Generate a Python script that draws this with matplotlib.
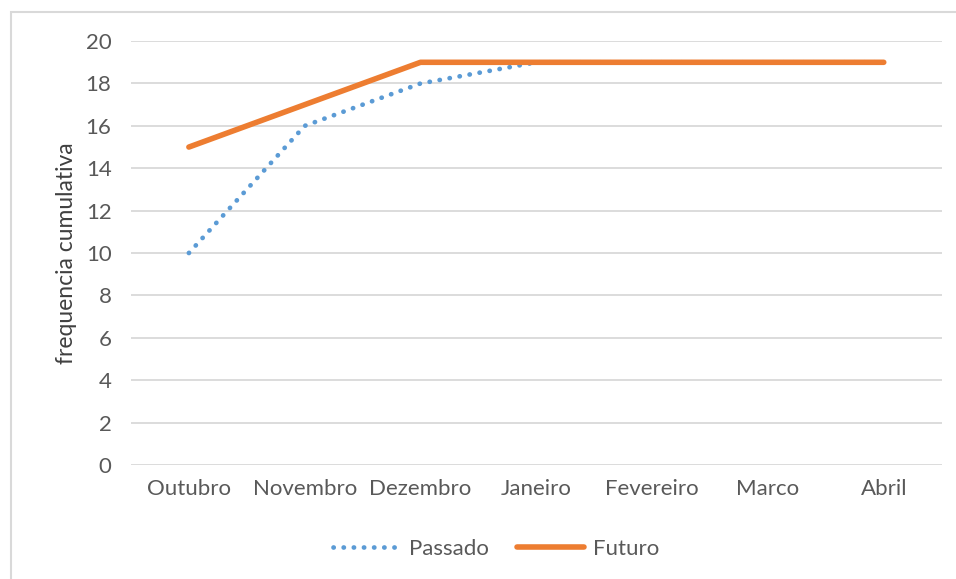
import matplotlib
matplotlib.use('AGG')

import matplotlib.pyplot as plt
import matplotlib.patches as patches

meses = ['Outubro', 'Novembro', 'Dezembro', 'Janeiro', 'Fevereiro', 'Marco', 'Abril']
passado = [10, 16, 18, 19, 19, 19, 19]
futuro = [15, 17, 19, 19, 19, 19, 19]
yticks = [0, 2, 4, 6, 8, 10, 12, 14, 16, 18, 20]

plt.rcParams['font.family'] = ['Lato', 'DejaVu Sans']

fig = plt.figure(figsize=(9.56, 5.79), dpi=100)
ax = fig.add_axes([0.137, 0.197, 0.848, 0.732])

# moldura cinza do grafico (cortada a direita e em baixo)
fig.patches.append(patches.Rectangle((0.0115, -0.1), 1.1, 1.079, transform=fig.transFigure,
                                     fill=False, edgecolor='#d9d9d9', linewidth=1.5))

x = range(len(meses))
ax.plot(x, passado, color='#5B9BD5', linewidth=3.4, linestyle=(0, (0.05, 2.1)),
        dash_capstyle='round', label='Passado', zorder=3)
ax.plot(x, futuro, color='#ED7D31', linewidth=4, solid_capstyle='round',
        label='Futuro', zorder=4)

ax.set_xlim(-0.5, len(meses) - 0.5)
ax.set_ylim(0, 20)
ax.set_yticks(yticks)
ax.set_xticks(list(x))
ax.set_xticklabels(meses)
ax.grid(axis='y', color='#d9d9d9', linewidth=1.3)
ax.set_axisbelow(True)
for s in ax.spines.values():
    s.set_visible(False)
ax.tick_params(length=0, labelsize=16, colors='#595959', pad=10)
ax.tick_params(axis='y', pad=14)
ax.set_ylabel('frequencia cumulativa', fontsize=16.5, color='#404040', labelpad=6)

fig.legend(loc='center', bbox_to_anchor=(0.519, 0.052), ncol=2, frameon=False,
           fontsize=16, handlelength=3.0, handletextpad=0.4, columnspacing=1.3,
           labelcolor='#595959')

plt.savefig('out.png', dpi=100)
